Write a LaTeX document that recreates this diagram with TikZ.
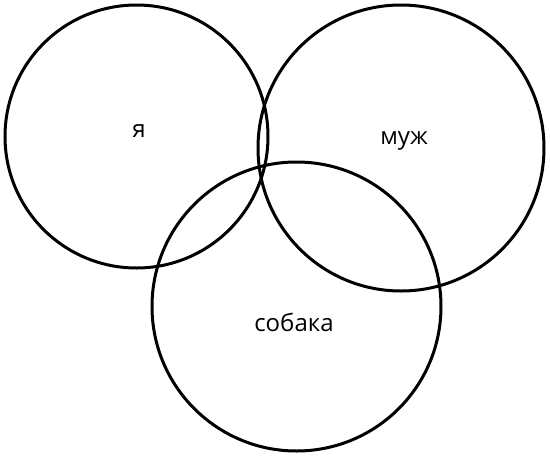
\documentclass[tikz,border=0pt]{standalone}
\usepackage{fontspec}
\setmainfont{Open Sans}
\usepackage{tikz}
\usetikzlibrary{calc}

\begin{document}
\begin{tikzpicture}[x=1pt, y=-1pt, line width=3pt]
	\useasboundingbox (0,0) rectangle (550,456);
	\coordinate (ya) at (136.5,136.5);
	\coordinate (muzh) at (401,148);
	\coordinate (sobaka) at (296.5,306.5);
	\draw (ya) circle (131.5);
	\draw (muzh) circle (143);
	\draw (sobaka) circle (144.5);
	\path (139,131) node [font=\fontsize{24}{28}\selectfont] (lya) {я};
	\path (404,141) node [font=\fontsize{24}{28}\selectfont] (lmuzh) {муж};
	\path (294,322) node [font=\fontsize{24}{28}\selectfont] (lsobaka) {собака};
\end{tikzpicture}
\end{document}
